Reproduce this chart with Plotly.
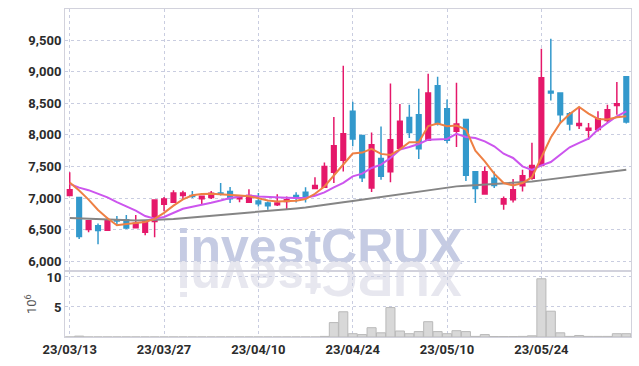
import plotly.graph_objects as go
from plotly.subplots import make_subplots

dates = ["23/03/13","23/03/14","23/03/15","23/03/16","23/03/17","23/03/20","23/03/21","23/03/22","23/03/23","23/03/24",
         "23/03/27","23/03/28","23/03/29","23/03/30","23/03/31","23/04/03","23/04/04","23/04/05","23/04/06","23/04/07",
         "23/04/10","23/04/11","23/04/12","23/04/13","23/04/14","23/04/17","23/04/18","23/04/19","23/04/20","23/04/21",
         "23/04/24","23/04/25","23/04/26","23/04/27","23/04/28","23/05/02","23/05/03","23/05/04","23/05/08","23/05/09",
         "23/05/10","23/05/11","23/05/12","23/05/15","23/05/16","23/05/17","23/05/18","23/05/19","23/05/22","23/05/23",
         "23/05/24","23/05/25","23/05/26","23/05/30","23/05/31","23/06/01","23/06/02","23/06/05","23/06/07","23/06/08"]

open_ = [7040,7010,6500,6560,6490,6650,6655,6530,6460,6630,
         6900,6935,7040,7040,6990,7010,7080,7105,6990,6935,
         6955,6920,6895,6945,7040,7090,7150,7170,7410,7600,
         8375,7990,7160,7625,7415,7790,8275,8320,7915,8780,
         8415,8060,8245,7415,7065,7315,6905,6975,7195,7315,
         7515,8690,8665,8335,8150,8075,8085,8230,8465,8920]
high = [7410,7010,6650,6595,6690,6715,6730,6730,6645,6975,
        7015,7125,7115,7110,7040,7110,7240,7175,7050,7140,
        7080,6945,7060,7025,7090,7170,7330,7565,8285,9095,
        8525,8000,8040,8135,8815,8490,8480,8730,8970,8920,
        8560,8825,8250,7420,7500,7420,7025,7300,7450,7875,
        9365,9525,8670,8365,8445,8190,8375,8480,8840,8925]
low = [7030,6350,6460,6270,6485,6560,6510,6525,6410,6380,
       6790,6930,6975,7000,6900,6985,7040,6920,6935,6930,
       6865,6815,6875,6815,6930,6930,7150,7165,7240,7420,
       7820,7255,7095,7290,7250,7765,7950,7620,7910,8150,
       7870,7810,7270,6920,7060,7160,6815,6930,7105,7290,
       7510,8545,8175,8070,8095,7925,8055,8190,8320,8180]
close = [7130,6390,6640,6485,6655,6635,6525,6600,6640,6970,
         6985,7080,7080,7025,7030,7075,7060,6990,7010,7040,
         6910,6880,6920,6975,7005,7015,7200,7500,7830,8020,
         7935,7320,7845,7345,7925,8215,8040,7780,8665,8180,
         7915,8175,7360,7150,7415,7200,6990,7130,7355,7515,
         8905,8665,8320,8175,8180,8105,8255,8400,8495,8205]

ma_short = [7245,7120,6975,6810,6680,6570,6590,6605,6620,6670,
            6765,6880,6980,7045,7065,7068,7063,7052,7041,7030,
            7000,6962,6947,6947,6957,6984,7068,7184,7354,7540,
            7705,7720,7780,7700,7682,7772,7883,7883,8140,8180,
            8137,8148,8084,7751,7581,7386,7238,7200,7238,7330,
            7640,7960,8190,8330,8444,8338,8254,8243,8280,8296]
ma_mid = [7225,7165,7125,7065,7010,6935,6870,6800,6715,6672,
          6700,6770,6830,6862,6890,6925,6960,7000,7025,7041,
          7025,7016,7005,7005,7000,7005,7036,7089,7168,7240,
          7343,7386,7476,7529,7635,7767,7810,7857,7925,7937,
          7937,8016,7968,7952,7899,7820,7703,7635,7502,7445,
          7518,7571,7687,7804,7873,7941,8084,8190,8296,8375]
ma_long = [6683,6676,6668,6660,6652,6645,6641,6643,6647,6651,
           6656,6668,6680,6692,6705,6717,6730,6745,6762,6775,
           6785,6795,6805,6820,6835,6850,6868,6888,6910,6932,
           6954,6976,6998,7020,7042,7064,7086,7106,7126,7148,
           7166,7185,7196,7204,7212,7220,7228,7237,7248,7262,
           7280,7298,7315,7333,7350,7368,7388,7408,7428,7448]

volume = [0.0,0.15,0.0,0.0,0.0,0.0,0.0,0.0,0.0,0.0,
          0.0,0.0,0.0,0.0,0.0,0.0,0.0,0.0,0.0,0.0,
          0.0,0.0,0.0,0.0,0.0,0.0,0.0,0.1,2.4,4.2,
          0.55,0.4,1.55,0.7,4.9,1.0,0.55,0.9,2.55,0.9,
          0.55,1.05,0.9,0.1,0.4,0.08,0.08,0.08,0.1,0.2,
          9.7,4.3,0.7,0.1,0.25,0.1,0.1,0.1,0.55,0.55]

price_ticks = [6000, 6500, 7000, 7500, 8000, 8500, 9000, 9500]
vol_ticks = [5, 10]
label_step = 10

xs = list(range(len(dates)))
tick_idx = xs[::label_step]
tick_txt = dates[::label_step]

RED = "#e5186a"
BLUE = "#3399cc"
GRID = "#c9cde0"
LINE = "#d2d2dc"
FONT = "Roboto, Liberation Sans, sans-serif"

fig = make_subplots(rows=2, cols=1, shared_xaxes=True, vertical_spacing=0,
                    row_heights=[0.8, 0.2])

fig.add_trace(go.Scatter(x=xs, y=ma_long, mode="lines",
                         line=dict(color="#858585", width=2), hoverinfo="skip"), row=1, col=1)
fig.add_trace(go.Candlestick(x=xs, open=open_, high=high, low=low, close=close,
                             increasing=dict(line=dict(color=RED, width=1.5), fillcolor=RED),
                             decreasing=dict(line=dict(color=BLUE, width=1.5), fillcolor=BLUE),
                             whiskerwidth=0), row=1, col=1)
fig.add_trace(go.Scatter(x=xs, y=ma_mid, mode="lines",
                         line=dict(color="#cc55ee", width=2), hoverinfo="skip"), row=1, col=1)
fig.add_trace(go.Scatter(x=xs, y=ma_short, mode="lines",
                         line=dict(color="#ee8044", width=2), hoverinfo="skip"), row=1, col=1)
fig.add_trace(go.Bar(x=xs, y=volume, marker=dict(color="#d8d8d8", line=dict(color="#b9b9b9", width=1))),
              row=2, col=1)

axis_font = dict(family=FONT, size=13, color="#2b2b2b", weight="bold")
fig.update_xaxes(range=[-0.5, len(dates) - 0.5], tickmode="array", tickvals=tick_idx, ticktext=tick_txt,
                 showgrid=True, gridcolor=GRID, griddash="dot", gridwidth=1, automargin=False,
                 showline=True, linecolor=LINE, mirror=True, ticks="", zeroline=False,
                 tickfont=axis_font, rangeslider=dict(visible=False))
fig.update_xaxes(showticklabels=False, row=1, col=1)
fig.update_yaxes(range=[5838, 9995], tickvals=price_ticks, tickformat=",d", automargin=False,
                 showgrid=True, gridcolor=GRID, griddash="dot", zeroline=False,
                 showline=True, linecolor=LINE, mirror=True, ticks="", ticklen=0,
                 tickfont=axis_font, row=1, col=1)
fig.update_yaxes(range=[0, 10.93], tickvals=vol_ticks, automargin=False,
                 showgrid=True, gridcolor=GRID, griddash="dot", zeroline=False,
                 showline=True, linecolor=LINE, mirror=True, ticks="",
                 tickfont=axis_font,
                 title=dict(text="10<sup>6</sup>", font=dict(family=FONT, size=13, color="#555555"), standoff=6),
                 row=2, col=1)

fig.add_shape(type="rect", xref="paper", yref="paper", x0=0.15, x1=0.75, y0=0.23, y1=0.35,
              line=dict(width=0), fillcolor="rgba(0,0,0,0)", layer="below",
              label=dict(text="<b>investCRUX</b>", textposition="middle center",
                         font=dict(family="Liberation Sans, Arial, sans-serif", size=50,
                                   color="#c5cbe3")))
fig.add_shape(type="rect", xref="paper", yref="paper", x0=0.15, x1=0.75, y0=0.105, y1=0.225,
              line=dict(width=0), fillcolor="rgba(0,0,0,0)", layer="below",
              label=dict(text="<b>XURCtsevni</b>", textposition="middle center", textangle=180,
                         font=dict(family="Liberation Sans, Arial, sans-serif", size=50,
                                   color="#e7e7ef")))

fig.update_layout(width=639, height=366, margin=dict(l=65, r=8, t=9, b=29),
                  paper_bgcolor="white", plot_bgcolor="rgba(0,0,0,0)",
                  showlegend=False, bargap=0.04, hovermode=False)

fig.write_html("out.html", config={"displayModeBar": False},
               post_script="document.body.style.margin='0';document.body.style.overflow='hidden';")
